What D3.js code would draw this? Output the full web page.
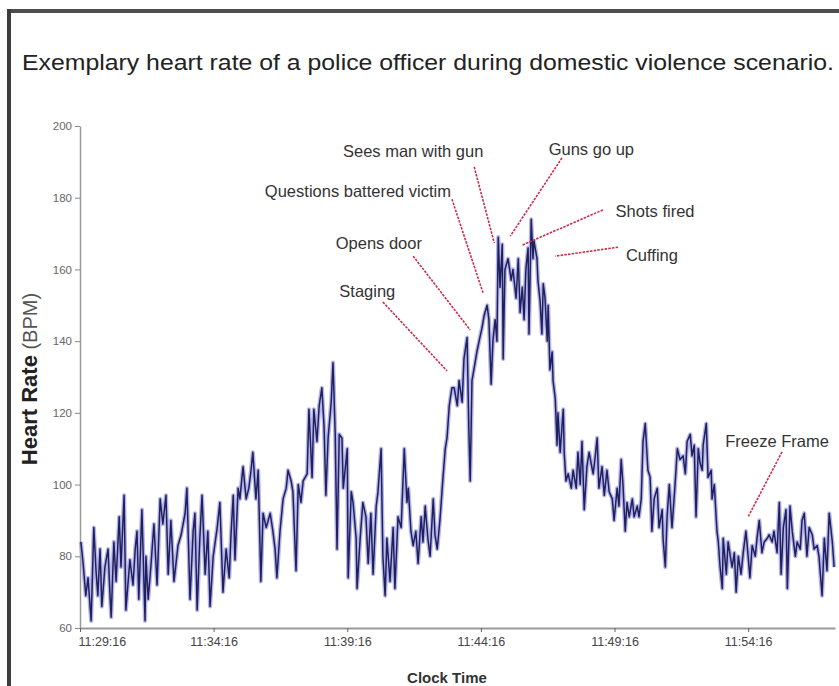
<!DOCTYPE html>
<html>
<head>
<meta charset="utf-8">
<script src="https://cdn.jsdelivr.net/npm/d3@7"></script>
<style>
  body { margin: 0; background: #fff; }
  svg { display: block; font-family: "Liberation Sans", Arial, sans-serif; }
</style>
</head>
<body>
<svg id="chart" width="839" height="686"></svg>
<script>
// ---------------- DATA ----------------
const titleText = "Exemplary heart rate of a police officer during domestic violence scenario.";
const startTime = "11:29:16";
const axisEndSec = 1695;   // seconds after start where the time axis ends

// seconds elapsed since 11:29:16
const elapsedSec = [
  2,7,13,18,25,31,36,40,45,49,56,63,67,70,76,81,88,92,99,103,112,119,124,128,132,139,146,148,153,159,
  166,173,180,186,193,198,204,211,220,227,236,240,247,254,258,263,269,274,281,287,292,299,308,314,321,328,335,339,344,348,
  355,359,366,373,379,384,388,395,400,406,411,418,427,433,
  438,442,449,456,463,467,474,478,485,490,496,501,510,514,521,525,532,537,543,548,552,557,564,568,573,577,582,588,591,600,
  602,609,613,620,622,629,635,642,647,653,658,665,669,676,680,685,689,696,703,707,714,721,728,734,737,743,748,754,759,766,
  770,775,781,786,793,797,802,
  808,815,820,824,829,835,840,847,851,858,862,869,873,876,880,887,891,896,903,907,914,918,923,927,932,936,939,943,948,950,
  954,961,968,972,979,984,988,993,997,1001,1006,1008,1013,1017,1019,1026,1028,1033,1037,1040,1044,1049,1051,1055,1060,1062,1067,1071,1073,1078,
  1082,1085,1087,1091,1096,1103,1107,1114,1118,1123,1127,1132,1138,1143,
  1152,1156,1161,1165,1172,1177,1183,1188,1195,1199,1206,1210,1215,1219,1224,1228,1233,1240,1244,1251,
  1255,1260,1264,1269,1275,1280,1284,1289,1296,1300,1307,1309,1314,1318,1323,1329,1336,1341,1347,1354,
  1359,1363,1370,1374,1379,1383,1388,1392,1397,1399,1406,1410,1417,1419,1424,1430,1433,1437,1442,1444,
  1451,1455,1460,1464,1469,1473,1478,1484,1489,1495,1500,1504,1509,1516,1520,1525,1531,1536,1543,1547,
  1554,1558,1565,1570,1574,1579,1585,1588,1594,1599,1606,1610,1617,1621,1626,1632,1637,1644,1648,1655,
  1659,1666,1671,1677,1682,1689,1693
];

// heart rate (BPM) at each of those times
const heartRate = [
  84,78,69,74,62,88,76,69,82,66,77,82,70,63,84,73,91,77,97,65,79,72,82,87,68,93,62,80,68,77,
  89,72,96,89,97,75,90,73,83,86,92,99,68,87,92,65,85,97,75,87,66,80,88,95,70,82,74,86,97,79,
  99,96,105,96,99,104,109,96,104,73,92,88,92,87,
  82,74,87,96,99,104,101,98,76,100,95,101,103,121,102,121,112,122,127,116,97,113,123,134,114,82,114,113,99,110,
  74,98,95,85,71,85,95,91,78,92,75,94,98,110,80,69,85,73,88,71,91,88,110,95,99,87,83,87,78,91,
  84,94,85,80,96,86,82,
  90,102,110,113,122,127,127,122,129,123,135,141,115,101,129,134,137,140,144,147,150,146,128,140,146,140,169,155,167,135,
  160,163,157,160,152,163,148,155,146,160,166,142,174,163,168,163,157,151,142,156,152,140,150,132,137,129,124,111,120,109,
  116,121,109,101,103,99,104,99,109,100,112,93,105,109,
  103,107,113,99,105,97,104,98,96,90,99,94,107,100,87,95,91,96,91,94,
  91,96,112,117,104,102,87,96,99,88,93,85,77,91,100,88,100,110,107,108,
  103,112,114,108,111,91,110,106,104,111,117,102,104,96,100,87,84,77,71,85,
  75,84,80,77,81,70,80,75,81,87,80,74,83,80,85,90,81,84,85,86,
  84,87,81,95,75,88,93,71,94,87,80,84,82,90,92,80,88,86,82,83,
  80,69,85,76,92,84,77
];

const yTicks = [60, 80, 100, 120, 140, 160, 180, 200];
const xTickLabels = ["11:29:16", "11:34:16", "11:39:16", "11:44:16", "11:49:16", "11:54:16"];

// annotations (positions in data units: seconds after start, BPM)
const annotLabels  = ["Sees man with gun", "Guns go up", "Questions battered victim", "Shots fired", "Opens door", "Cuffing", "Staging", "Freeze Frame"];
const annotTextSec = [748, 1148, 624, 1291, 671, 1284, 645, 1565];
const annotTextBpm = [193.0, 193.6, 181.9, 176.3, 167.4, 164.1, 154.0, 112.1];
const annotFromSec = [885, 1082, 835, 1174, 748, 1208, 680, 1576];
const annotFromBpm = [188.6, 191.1, 179.6, 176.6, 163.7, 166.2, 150.9, 109.1];
const annotToSec   = [930, 966, 905, 993, 876, 1067, 824, 1500];
const annotToBpm   = [167.4, 169.3, 153.4, 166.8, 143.1, 163.7, 131.7, 91.0];

// ---------------- CHART ----------------
const W = 839, H = 686;
const svg = d3.select("#chart");
const parse = d3.timeParse("%H:%M:%S");
const t0 = parse(startTime);
const toDate = s => d3.timeSecond.offset(t0, s);
const data = elapsedSec.map((s, i) => ({ t: toDate(s), v: heartRate[i] }));

const plot = { left: 80, right: 835, top: 126, bottom: 628 };
const x = d3.scaleTime().domain([t0, toDate(axisEndSec)]).range([plot.left, plot.right]);
const y = d3.scaleLinear().domain([60, 200]).range([plot.bottom, plot.top]);

svg.append("rect").attr("width", W).attr("height", H).attr("fill", "#fff");

// frame borders
svg.append("rect").attr("x", 7).attr("y", 9).attr("width", W - 7).attr("height", 4).attr("fill", "#4d4d4d");
svg.append("rect").attr("x", 7).attr("y", 9).attr("width", 4).attr("height", H - 9).attr("fill", "#3d3d3d");

// title
svg.append("text")
  .attr("x", 22).attr("y", 70)
  .attr("font-size", 22.5).attr("fill", "#222")
  .attr("textLength", 812).attr("lengthAdjust", "spacingAndGlyphs")
  .text(titleText);

// y axis
const yAxis = svg.append("g")
  .attr("transform", `translate(${plot.left},0)`)
  .call(d3.axisLeft(y).tickValues(yTicks).tickSize(5).tickSizeOuter(0).tickPadding(3));
yAxis.select(".domain").attr("stroke", "#999").attr("stroke-width", 1.5);
yAxis.selectAll(".tick line").attr("stroke", "#888");
yAxis.selectAll(".tick text").attr("fill", "#666").attr("font-size", 11.5)
  .attr("font-family", "'Liberation Sans', Arial, sans-serif");

// x axis
const xTickDates = xTickLabels.map(parse);
const xAxis = svg.append("g")
  .attr("transform", `translate(0,${plot.bottom})`)
  .call(d3.axisBottom(x).tickValues(xTickDates).tickSize(4).tickSizeOuter(0).tickPadding(5)
    .tickFormat((d, i) => xTickLabels[i]));
xAxis.select(".domain").attr("stroke", "#999").attr("stroke-width", 2);
xAxis.selectAll(".tick line").attr("stroke", "#666");
xAxis.selectAll(".tick text").attr("fill", "#444").attr("font-size", 12.5)
  .attr("font-family", "'Liberation Sans', Arial, sans-serif");
xAxis.selectAll(".tick text").filter((d, i) => i === 0).attr("text-anchor", "start").attr("dx", -2);

// heart-rate trace
const line = d3.line().x(d => x(d.t)).y(d => y(d.v));
svg.append("path").datum(data)
  .attr("d", line).attr("fill", "none")
  .attr("stroke", "#9c9ce2").attr("stroke-width", 4.2).attr("stroke-opacity", 0.75)
  .attr("stroke-linejoin", "round");
svg.append("path").datum(data)
  .attr("d", line).attr("fill", "none")
  .attr("stroke", "#20205f").attr("stroke-width", 1.5)
  .attr("stroke-linejoin", "round");

// annotations
const ann = annotLabels.map((label, i) => ({
  label,
  tx: x(toDate(annotTextSec[i])), ty: y(annotTextBpm[i]),
  x1: x(toDate(annotFromSec[i])), y1: y(annotFromBpm[i]),
  x2: x(toDate(annotToSec[i])), y2: y(annotToBpm[i])
}));
const ag = svg.append("g");
ag.selectAll("line").data(ann).join("line")
  .attr("x1", d => d.x1).attr("y1", d => d.y1)
  .attr("x2", d => d.x2).attr("y2", d => d.y2)
  .attr("stroke", "#cc2c4a").attr("stroke-width", 1.6)
  .attr("stroke-dasharray", "2.5,1.2");
ag.selectAll("text").data(ann).join("text")
  .attr("x", d => d.tx).attr("y", d => d.ty)
  .attr("text-anchor", "middle").attr("dominant-baseline", "central")
  .attr("font-size", 16.5).attr("fill", "#333")
  .text(d => d.label);

// axis titles
const yl = svg.append("text")
  .attr("transform", `translate(37,379) rotate(-90)`)
  .attr("text-anchor", "middle");
yl.append("tspan").attr("font-weight", "bold").attr("font-size", 22).attr("fill", "#222").text("Heart Rate");
yl.append("tspan").attr("font-size", 20).attr("fill", "#555").text(" (BPM)");

svg.append("text")
  .attr("x", 447).attr("y", 683)
  .attr("text-anchor", "middle")
  .attr("font-weight", "bold").attr("font-size", 15).attr("fill", "#333")
  .text("Clock Time");
</script>
</body>
</html>
